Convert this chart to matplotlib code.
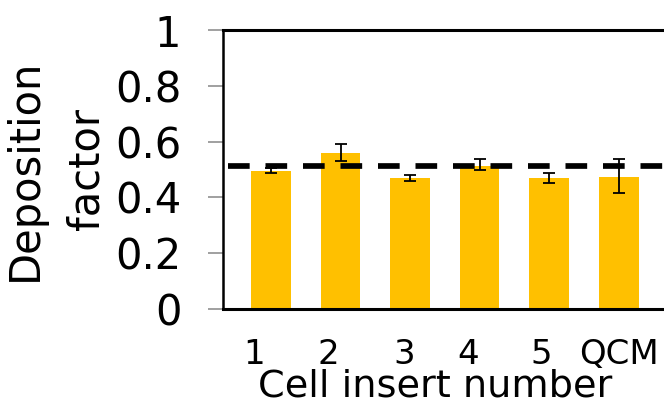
import matplotlib
matplotlib.use("Agg")
import matplotlib.pyplot as plt
import numpy as np

categories = ["1", "2", "3", "4", "5", "QCM"]
values = [0.495, 0.558, 0.468, 0.514, 0.468, 0.474]
err_center = [0.495, 0.560, 0.470, 0.518, 0.470, 0.476]
errors = [0.009, 0.030, 0.010, 0.020, 0.017, 0.062]
reference_level = 0.512
yticks = [0, 0.2, 0.4, 0.6, 0.8, 1]
ytick_labels = ["0", "0.2", "0.4", "0.6", "0.8", "1"]

plt.rcParams['font.family'] = ['DejaVu Sans']
plt.rcParams['lines.scale_dashes'] = False

fig = plt.figure(figsize=(6.64, 4.13), dpi=100)
ax = fig.add_axes([222.7/664, 104/413, 444.3/664, 279/413])

x = np.arange(len(categories))
ax.bar(x, values, width=0.57, color='#FFC000', zorder=2)
ax.errorbar(x, err_center, yerr=errors, fmt='none', ecolor='black',
            elinewidth=1.3, capsize=4.3, capthick=1.3, zorder=3)

line = ax.axhline(reference_level, xmin=0.012, xmax=1, color='black',
                  lw=4.1, zorder=4, solid_capstyle='butt')
line.set_dashes((15.6, 11.4))
line.set_dash_capstyle('butt')

ax.set_xlim(-0.694, 5.694)
ax.set_ylim(0, 1)
ax.set_yticks(yticks)
ax.set_yticklabels(ytick_labels, fontsize=30)

label_shift = [-0.24, -0.17, -0.09, -0.17, -0.11, 0.0]
ax.set_xticks(x + np.array(label_shift))
ax.set_xticklabels(categories, fontsize=24.5)
ax.tick_params(axis='x', length=0, pad=21)
ax.tick_params(axis='y', length=10.8, width=1.3, color='#999999', pad=19)

for side in ['top', 'bottom']:
    ax.spines[side].set_linewidth(2.2)
    ax.spines[side].set_color('black')
ax.spines['left'].set_linewidth(1.8)
ax.spines['right'].set_visible(False)

ax.set_xlabel("Cell insert number", fontsize=27.5)
ax.xaxis.set_label_coords(0.478, -0.214)
ax.set_ylabel("Deposition\nfactor", fontsize=30, linespacing=1.6)
ax.yaxis.set_label_coords(-0.26, 0.5)

fig.savefig("out.png", dpi=100)
